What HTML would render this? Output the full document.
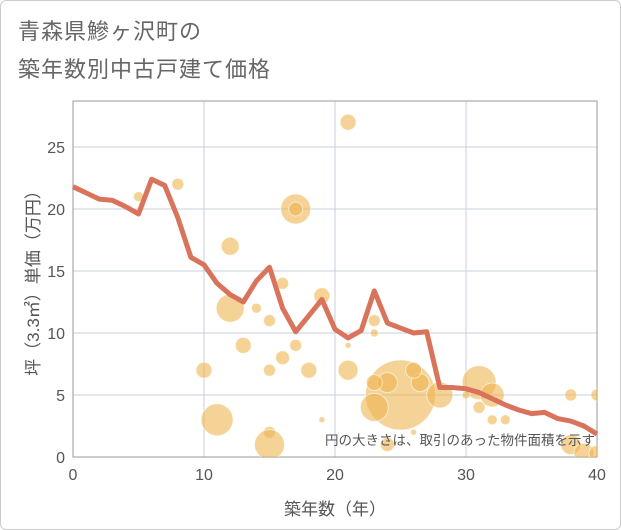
<!DOCTYPE html>
<html><head><meta charset="utf-8"><style>
html,body{margin:0;padding:0;background:#fff}
#wrap{position:relative;width:621px;height:530px;box-sizing:border-box;border:1px solid #ccc;border-radius:6px;overflow:hidden;font-family:"Liberation Sans","Noto Sans CJK JP",sans-serif}
.title{position:absolute;left:17px;font-size:22px;color:#666;letter-spacing:1px}
</style></head><body>
<div id="wrap">
<div class="title" style="top:13px">青森県鰺ヶ沢町の</div>
<div class="title" style="top:51px">築年数別中古戸建て価格</div>
<svg id="chart" width="621" height="530" style="position:absolute;left:0;top:0"></svg>
</div>
<script>
const xTicks=[0,10,20,30,40];
const yTicks=[0,5,10,15,20,25];
const lineYears=[0,1,2,3,4,5,6,7,8,9,10,11,12,13,14,15,16,17,18,19,20,21,22,23,24,25,26,27,28,29,30,31,32,33,34,35,36,37,38,39,40];
const lineValues=[21.8,21.3,20.8,20.7,20.2,19.6,22.4,21.9,19.3,16.1,15.5,14.0,13.1,12.5,14.2,15.3,12.0,10.1,11.4,12.7,10.3,9.6,10.2,13.4,10.8,10.4,10.0,10.1,5.6,5.6,5.5,5.2,4.7,4.2,3.8,3.5,3.6,3.1,2.9,2.5,1.85];
const bubbleX=[5,8,17,17,12,16,12,14,15,19,13,17,16,10,15,18,19,11,15,15,21,21,23,23,21,25,23,24,23,26.5,28,26,24,26,31,32,30,31,32,33,38,40,38,39,40];
const bubbleY=[21,22,20,20,17,14,12,12,11,13,9,9,8,7,7,7,3,3,2,1,27,9,11,10,7,5,4,6,6,6,5,7,1,2,6,5,5,4,3,3,5,5,1,0.3,0.3];
const bubbleR=[5,6,15,7,9,6,14,5,6,8,8,6,7,8,6,8,3,16,6,15,8,3,6,4,10,35,14,10,8,9,13,8,7,3,17,12,4,6,5,5,6,6,10,10,8];
const svg=document.getElementById('chart');
const NS='http://www.w3.org/2000/svg';
const L=72,R=596,T=100,B=456;
const xs=v=>L+(v/40)*(R-L);
const ys=v=>B-v*12.4;
function mk(tag,attrs,parent){const e=document.createElementNS(NS,tag);for(const k in attrs)e.setAttribute(k,attrs[k]);(parent||svg).appendChild(e);return e;}
xTicks.forEach(t=>{
 const g=mk('line',{x1:xs(t),x2:xs(t),y1:T,y2:B,stroke:'#c5d0db','stroke-width':1});
 
 
 const tx=mk('text',{x:xs(t),y:B+23,'text-anchor':'middle','font-size':16,fill:'#555'});
 tx.textContent=t;
 
 
});
yTicks.forEach(t=>{
 const g=mk('line',{x1:L,x2:R,y1:ys(t),y2:ys(t),stroke:'#c5d0db','stroke-width':1});
 
 
 const tx=mk('text',{x:L-8,y:ys(t)+6,'text-anchor':'end','font-size':16,fill:'#555'});
 tx.textContent=t;
 
 
});
const fr=mk('rect',{x:L,y:T,width:R-L,height:B-T,fill:'none',stroke:'#999','stroke-width':1});


const clip=mk('clipPath',{id:'pc'});mk('rect',{x:L,y:T,width:R-L,height:B-T},clip);
const bg=mk('g',{'clip-path':'url(#pc)'});
bubbleX.forEach((x,i)=>{
 const c=mk('circle',{cx:xs(x),cy:ys(bubbleY[i]),r:bubbleR[i],fill:'rgba(238,180,80,0.6)',stroke:'rgba(255,255,255,0.6)','stroke-width':1},bg);
 
 
});
const pts=lineYears.map((y,i)=>xs(y)+','+ys(lineValues[i])).join(' ');
const pl=mk('polyline',{points:pts,fill:'none',stroke:'#d9735c','stroke-width':5,'stroke-linejoin':'round'});


const note=mk('text',{x:594,y:444,'text-anchor':'end','font-size':13.5,fill:'#555'});
note.textContent='円の大きさは、取引のあった物件面積を示す';


const xt=mk('text',{x:334,y:514,'text-anchor':'middle','font-size':17,fill:'#555'});
xt.textContent='築年数（年）';


const yt=mk('text',{x:0,y:0,'text-anchor':'middle','font-size':17,fill:'#555',transform:'translate(38,278) rotate(-90)'});
yt.textContent='坪（3.3㎡）単価（万円）';


</script>
</body></html>
